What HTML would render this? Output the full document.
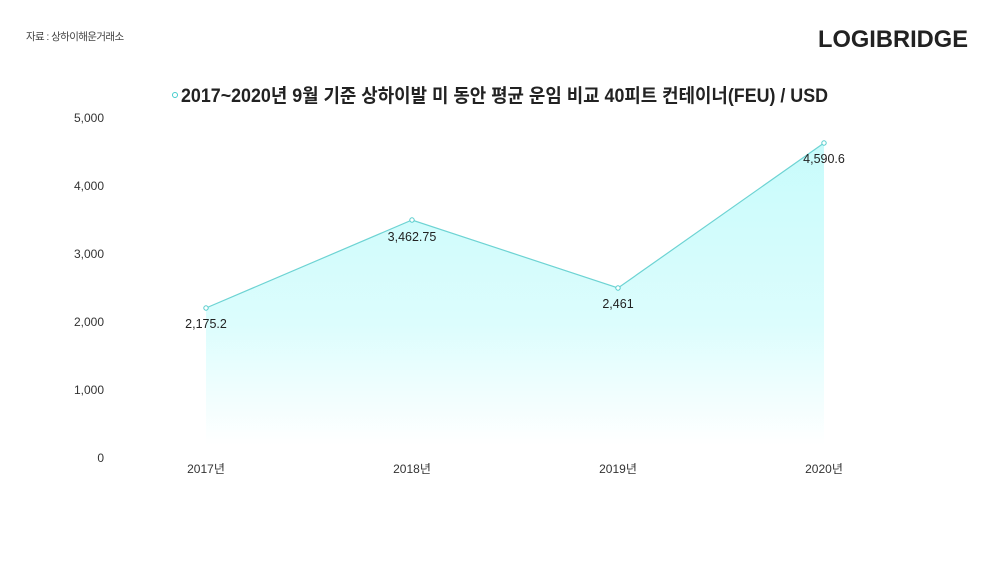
<!DOCTYPE html>
<html><head><meta charset="utf-8"><style>
body{margin:0;width:1000px;height:562px;background:#fff;overflow:hidden;position:relative;font-family:"Liberation Sans","Noto Sans CJK KR",sans-serif;}
.src{position:absolute;left:26px;top:29px;font-size:10.5px;color:#444;letter-spacing:-0.6px;}
</style></head><body>
<div class="src">자료 : 상하이해운거래소</div>
<svg width="1000" height="562" style="position:absolute;left:0;top:0" font-family="Liberation Sans, Noto Sans CJK KR, sans-serif">
<defs><linearGradient id="g" x1="0" y1="0" x2="0" y2="1"><stop offset="0" stop-color="#c8fbfb"/><stop offset="0.6" stop-color="#dcfdfd"/><stop offset="1" stop-color="#ffffff"/></linearGradient></defs>
<text x="818" y="47" font-size="24" font-weight="bold" fill="#222" textLength="150" lengthAdjust="spacingAndGlyphs">LOGIBRIDGE</text>
<circle cx="175" cy="95" r="2.5" fill="none" stroke="#4cc" stroke-width="1"/>
<text x="181" y="102" font-size="19" font-weight="bold" fill="#222" textLength="647" lengthAdjust="spacingAndGlyphs">2017~2020년 9월 기준 상하이발 미 동안 평균 운임 비교 40피트 컨테이너(FEU) / USD</text>
<g font-size="12" fill="#333" text-anchor="end">
<text x="104" y="122">5,000</text><text x="104" y="190">4,000</text><text x="104" y="258">3,000</text><text x="104" y="326">2,000</text><text x="104" y="394">1,000</text><text x="104" y="462">0</text>
</g>
<polygon points="206,308 412,220 618,288 824,143 824,445 206,445" fill="url(#g)"/>
<polyline points="206,308 412,220 618,288 824,143" fill="none" stroke="#6dd3d3" stroke-width="1.2"/>
<g fill="#fff" stroke="#5cc" stroke-width="1"><circle cx="206" cy="308" r="2.2"/><circle cx="412" cy="220" r="2.2"/><circle cx="618" cy="288" r="2.2"/><circle cx="824" cy="143" r="2.2"/></g>
<g font-size="12.5" fill="#222" text-anchor="middle">
<text x="206" y="328">2,175.2</text><text x="412" y="241">3,462.75</text><text x="618" y="308">2,461</text><text x="824" y="163">4,590.6</text>
</g>
<g font-size="12" fill="#333" text-anchor="middle">
<text x="206" y="473">2017년</text><text x="412" y="473">2018년</text><text x="618" y="473">2019년</text><text x="824" y="473">2020년</text>
</g>
</svg>
</body></html>
